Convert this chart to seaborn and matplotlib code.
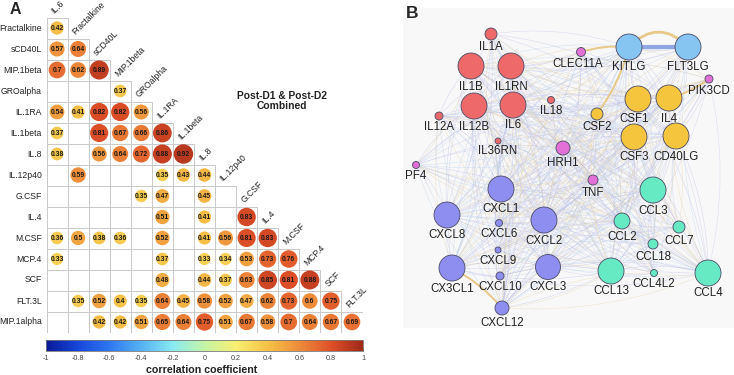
import numpy as np
import pandas as pd
import matplotlib
matplotlib.use("Agg")
import matplotlib.pyplot as plt
import seaborn as sns
from matplotlib.colors import LinearSegmentedColormap, Normalize
from matplotlib.cm import ScalarMappable
from matplotlib.path import Path
from matplotlib.patches import PathPatch, Rectangle

sns.set_style("white")
plt.rcParams['font.family'] = ['Liberation Sans', 'DejaVu Sans']

# ---------------- Panel A data ----------------
variables = ["IL.6", "Fractalkine", "sCD40L", "MIP.1beta", "GROalpha", "IL.1RA",
             "IL.1beta", "IL.8", "IL.12p40", "G.CSF", "IL.4", "M.CSF", "MCP.4",
             "SCF", "FLT.3L", "MIP.1alpha"]
N = np.nan
corr_rows = [
    [0.42],
    [0.57, 0.64],
    [0.7, 0.62, 0.89],
    [N, N, N, 0.37],
    [0.54, 0.41, 0.82, 0.82, 0.56],
    [0.37, N, 0.81, 0.67, 0.66, 0.86],
    [0.38, N, 0.56, 0.64, 0.72, 0.88, 0.92],
    [N, 0.59, N, N, N, 0.35, 0.43, 0.44],
    [N, N, N, N, 0.35, 0.47, N, 0.45, N],
    [N, N, N, N, N, 0.51, N, 0.41, N, 0.83],
    [0.36, 0.5, 0.38, 0.36, N, 0.52, N, 0.41, 0.56, 0.81, 0.83],
    [0.33, N, N, N, N, 0.37, N, 0.33, 0.34, 0.53, 0.73, 0.76],
    [N, N, N, N, N, 0.48, N, 0.44, 0.37, 0.63, 0.85, 0.81, 0.88],
    [N, 0.35, 0.52, 0.4, 0.35, 0.64, 0.45, 0.58, 0.52, 0.47, 0.62, 0.73, 0.6, 0.75],
    [N, N, 0.42, 0.42, 0.51, 0.65, 0.64, 0.75, 0.51, 0.67, 0.58, 0.7, 0.64, 0.67, 0.69],
]
cbar_ticks = [-1, -0.8, -0.6, -0.4, -0.2, 0, 0.2, 0.4, 0.6, 0.8, 1]
title_text = "Post-D1 & Post-D2\nCombined"

# ---------------- Panel B data ----------------
node_names = ["IL1A", "IL1B", "IL1RN", "IL12B", "IL6", "IL12A", "IL36RN", "IL18",
              "KITLG", "FLT3LG",
              "CSF1", "IL4", "CSF2", "CSF3", "CD40LG",
              "CLEC11A", "PIK3CD", "HRH1", "PF4", "TNF",
              "CXCL1", "CXCL8", "CXCL6", "CXCL2", "CXCL9", "CX3CL1", "CXCL10", "CXCL3", "CXCL12",
              "CCL3", "CCL2", "CCL7", "CCL18", "CCL13", "CCL4L2", "CCL4"]
node_group = (["IL"] * 8 + ["KIT"] * 2 + ["CSF"] * 5 + ["other"] * 5 +
              ["CXCL"] * 9 + ["CCL"] * 7)
hubs = ["IL1B", "IL1RN", "IL6", "IL12B", "CXCL8", "CXCL1", "CXCL2", "CXCL3",
        "CX3CL1", "CCL2", "CCL3", "CCL4", "CCL13", "CSF1", "CSF3", "IL4",
        "CD40LG", "TNF", "HRH1", "CXCL12", "KITLG"]
strong_edges = [("KITLG", "FLT3LG"), ("CLEC11A", "KITLG"), ("KITLG", "CSF2"),
                ("CX3CL1", "CXCL12"), ("PIK3CD", "IL4")]

# layout of the network (pixel space) and node radius
layout = {
    "IL1A": (491, 34, 6), "IL1B": (471, 66, 13), "IL1RN": (511, 66, 13),
    "IL12B": (474, 106, 13), "IL6": (513, 105, 13), "IL12A": (439, 116, 4),
    "IL36RN": (498, 141, 3), "IL18": (551, 100, 3.5),
    "KITLG": (629, 47, 13), "FLT3LG": (688, 47, 13),
    "CSF1": (638, 99, 13), "IL4": (669, 98, 13), "CSF2": (597, 114, 6),
    "CSF3": (634, 137, 13), "CD40LG": (676, 136, 13),
    "CLEC11A": (581, 52, 4.5), "PIK3CD": (709, 79, 4), "HRH1": (563, 148, 7),
    "PF4": (416, 165, 3.5), "TNF": (593, 180, 5),
    "CXCL1": (501, 189, 13), "CXCL8": (447, 215, 13), "CXCL6": (499, 223, 3.5),
    "CXCL2": (544, 220, 13), "CXCL9": (498, 250, 3), "CX3CL1": (452, 268, 13),
    "CXCL10": (500, 276, 4), "CXCL3": (548, 267, 12.5), "CXCL12": (502, 308, 7),
    "CCL3": (653, 190, 13), "CCL2": (622, 221, 8), "CCL7": (679, 227, 6),
    "CCL18": (653, 244, 5), "CCL13": (611, 271, 13), "CCL4L2": (654, 273, 3.5),
    "CCL4": (708, 273, 13),
}
label_dx = {"CLEC11A": -3, "CSF1": -4}
group_colors = {"IL": "#ee6a6a", "KIT": "#86c4f2", "CSF": "#f5c53e",
                "other": "#e270d6", "CXCL": "#8e8ef0", "CCL": "#66eac4"}

W, H = 734, 375
fig = plt.figure(figsize=(W / 100, H / 100), dpi=100)

# ================= Panel A =================
cmap = LinearSegmentedColormap.from_list("corr", [
    (0.0, "#0b1a95"), (0.1, "#1546dc"), (0.2, "#2f78f0"), (0.3, "#56b2f2"),
    (0.4, "#88eaf0"), (0.5, "#c6f4a6"), (0.6, "#f8ef70"), (0.7, "#f5c247"),
    (0.8, "#ee8c3a"), (0.9, "#df5028"), (1.0, "#9e2818")])

recs = []
for r, vals in enumerate(corr_rows):
    for c, v in enumerate(vals):
        recs.append(dict(row=r, col=c, r=v))
df = pd.DataFrame(recs)
dfv = df.dropna().reset_index(drop=True)

axA = fig.add_axes([46.5 / W, 1 - 332.5 / H, 316 / W, 315 / H])

# grid (lower triangle staircase)
gcol = "#c9c9c9"
nr = len(corr_rows)
for r in range(nr):
    axA.plot([-0.5, r + 0.5], [r - 0.5, r - 0.5], color=gcol, lw=0.7, zorder=1)
axA.plot([-0.5, nr - 0.5], [nr - 0.5, nr - 0.5], color=gcol, lw=0.7, zorder=1)
axA.plot([-0.5, -0.5], [-0.5, nr - 0.5], color=gcol, lw=0.7, zorder=1)
for c in range(1, nr + 1):
    axA.plot([c - 0.5, c - 0.5], [c - 1.5, nr - 0.5], color=gcol, lw=0.7, zorder=1)

# circle diameter (px) grows with |r|
diam_px = 8.0 + 12.5 * dfv["r"].abs().to_numpy()
circ_s = (diam_px * 0.72) ** 2
sns.scatterplot(data=dfv, x="col", y="row", hue="r", hue_norm=(-1, 1),
                palette=cmap, s=circ_s, linewidth=0, legend=False, ax=axA, zorder=2)
axA.set_xlim(-0.5, 14.5)
axA.set_ylim(14.5, -0.5)
axA.axis("off")
for _, row in dfv.iterrows():
    axA.text(row["col"], row["row"] + 0.03, f"{row['r']:g}", ha="center", va="center",
             fontsize=4.9, fontweight="bold", color="#1a1a1a", zorder=3)

for r in range(nr):
    axA.text(-0.72, r, variables[r + 1], ha="right", va="center", fontsize=6.2,
             color="#222222")
for c in range(nr):
    axA.text(c - 0.05, c - 0.62, variables[c], ha="left", va="bottom",
             rotation=45, rotation_mode="anchor", fontsize=6.2, color="#222222")

fig.text(282 / W, 1 - 101 / H, title_text, ha="center", va="center",
         fontsize=7.4, fontweight="bold", linespacing=1.0, color="#222222")
fig.text(10 / W, 1 - 9 / H, "A", ha="left", va="center", fontsize=11.5,
         fontweight="bold")

cax = fig.add_axes([46 / W, 1 - 351 / H, 317 / W, 11 / H])
cb = fig.colorbar(ScalarMappable(norm=Normalize(-1, 1), cmap=cmap), cax=cax,
                  orientation="horizontal", ticks=cbar_ticks)
cb.ax.set_xticklabels([f"{t:g}" for t in cbar_ticks])
cb.ax.tick_params(direction="in", length=2.5, labelsize=5.2, pad=3,
                  colors="#444444", width=0.6)
cb.outline.set_edgecolor("#777777")
cb.outline.set_linewidth(0.6)
fig.text(201.5 / W, 1 - 370 / H, "correlation coefficient", ha="center",
         va="center", fontsize=7.7, fontweight="bold", color="#222222")

# ================= Panel B =================
axB = fig.add_axes([395 / W, 0, 339 / W, 1])
axB.add_patch(Rectangle((403, 8), 331, 320, facecolor="#f8f8f8",
                        edgecolor="none", zorder=0))

edge_cols = ["#bcbce8", "#e8d3a4", "#c4c4ec", "#b8d2ea"]
seen = set()
k = 0
for a in hubs:
    for b in node_names:
        if a == b or (b, a) in seen or (a, b) in seen:
            continue
        seen.add((a, b))
        x0, y0, _ = layout[a]
        x1, y1, _ = layout[b]
        mx, my = (x0 + x1) / 2, (y0 + y1) / 2
        dx, dy = x1 - x0, y1 - y0
        sgn = 1 if k % 2 == 0 else -1
        cx, cy = mx - dy * 0.12 * sgn, my + dx * 0.12 * sgn
        p = Path([(x0, y0), (cx, cy), (x1, y1)],
                 [Path.MOVETO, Path.CURVE3, Path.CURVE3])
        axB.add_patch(PathPatch(p, facecolor="none", edgecolor=edge_cols[k % 4],
                                lw=0.4, alpha=0.5, zorder=1))
        k += 1

for i, (a, b) in enumerate(strong_edges):
    x0, y0, _ = layout[a]
    x1, y1, _ = layout[b]
    if i == 0:
        axB.plot([x0, x1], [y0, y1], color="#8fa8e2", lw=3, zorder=2,
                 solid_capstyle="butt")
        mx = (x0 + x1) / 2
        p = Path([(x0, y0), (mx, y0 - 30), (x1, y1)],
                 [Path.MOVETO, Path.CURVE3, Path.CURVE3])
        axB.add_patch(PathPatch(p, facecolor="none", edgecolor="#e9c98a",
                                lw=2, zorder=2))
    else:
        mx, my = (x0 + x1) / 2, (y0 + y1) / 2
        p = Path([(x0, y0), (mx + (y1 - y0) * 0.1, my - (x1 - x0) * 0.1), (x1, y1)],
                 [Path.MOVETO, Path.CURVE3, Path.CURVE3])
        axB.add_patch(PathPatch(p, facecolor="none", edgecolor="#e9c98a",
                                lw=1.4, zorder=2))

ndf = pd.DataFrame({
    "name": node_names,
    "group": node_group,
    "x": [layout[n][0] for n in node_names],
    "y": [layout[n][1] for n in node_names],
})
node_s = np.array([(2 * layout[n][2] * 0.72) ** 2 for n in node_names])
sns.scatterplot(data=ndf, x="x", y="y", hue="group", palette=group_colors,
                s=node_s, edgecolor="#4b4b66", linewidth=0.6, legend=False,
                ax=axB, zorder=3)
axB.set_xlim(395, 734)
axB.set_ylim(375, 0)
axB.axis("off")
for n in node_names:
    x, y, rad = layout[n]
    axB.text(x + label_dx.get(n, 0), y + rad + 7.5, n, ha="center", va="center",
             fontsize=8.3, color="#222222", zorder=4)

fig.text(406 / W, 1 - 14 / H, "B", ha="left", va="center", fontsize=12.5,
         fontweight="bold")

fig.savefig("out.png", dpi=100)
